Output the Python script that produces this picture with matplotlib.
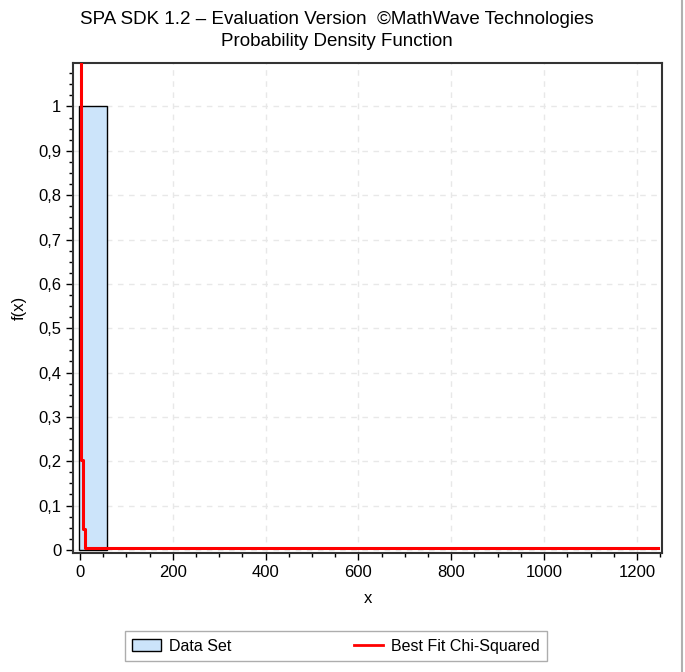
import matplotlib
matplotlib.use('Agg')
import matplotlib.pyplot as plt
from matplotlib.ticker import MultipleLocator, FuncFormatter
from matplotlib.patches import Patch
from matplotlib.lines import Line2D

plt.rcParams['font.family'] = ['Liberation Sans', 'DejaVu Sans']

# Data
bin_left = -3
bin_width = 61
bin_height = 1.0

fit_x = [2, 2, 6, 6, 11, 11, 1245]
fit_y = [1.3, 0.203, 0.203, 0.047, 0.047, 0.004, 0.004]

TITLE = 'SPA SDK 1.2 \u2013 Evaluation Version  \u00a9MathWave Technologies\nProbability Density Function'

fig = plt.figure(figsize=(6.85, 6.72), dpi=100)
ax = fig.add_axes([0.1066, 0.1771, 0.8598, 0.7291])

ax.bar([bin_left], [bin_height], width=bin_width, align='edge',
       color='#cce4fa', edgecolor='black', linewidth=1.0, zorder=2)
ax.plot(fit_x, fit_y, color='#ff0000', linewidth=2.2, zorder=3)

ax.set_xlim(-15, 1254)
ax.set_ylim(-0.007, 1.098)

ax.xaxis.set_major_locator(MultipleLocator(200))
ax.xaxis.set_minor_locator(MultipleLocator(50))
ax.yaxis.set_major_locator(MultipleLocator(0.1))
ax.yaxis.set_minor_locator(MultipleLocator(0.025))

def comma_fmt(v, pos):
    s = f'{v:.1f}'.rstrip('0').rstrip('.')
    if s == '-0':
        s = '0'
    return s.replace('.', ',')

ax.yaxis.set_major_formatter(FuncFormatter(comma_fmt))
ax.tick_params(which='major', direction='out', length=5, width=1, labelsize=12, colors='black')
ax.tick_params(which='minor', direction='out', length=3, width=1)

ax.grid(True, which='major', color='#e8e8e8', linestyle=(0, (4, 4)), linewidth=1.0, zorder=0)
ax.set_axisbelow(True)

for sp in ax.spines.values():
    sp.set_linewidth(1.5)
    sp.set_color('#333333')

ax.set_xlabel('x', fontsize=12, labelpad=8)
ax.set_ylabel('f(x)', fontsize=12, labelpad=8)

fig.text(0.4915, 0.955, TITLE, ha='center', va='center', fontsize=13.5, linespacing=1.35)

handles = [Patch(facecolor='#cce4fa', edgecolor='black', linewidth=1.0),
           Line2D([0], [0], color='#ff0000', linewidth=2)]
leg = fig.legend(handles, ['Data Set', 'Best Fit Chi-Squared'], loc='center',
                 bbox_to_anchor=(0.4905, 0.0385), ncol=2, fontsize=11.5,
                 frameon=True, fancybox=False, columnspacing=7.7,
                 handlelength=1.8, handletextpad=0.5, borderpad=0.45)
leg.get_frame().set_edgecolor('#999999')
leg.get_frame().set_linewidth(1.0)

fig.add_artist(Line2D([0.9955, 0.9955], [0, 1], transform=fig.transFigure,
                      color='#b0b0b0', linewidth=1.5))

fig.savefig('out.png', dpi=100)
